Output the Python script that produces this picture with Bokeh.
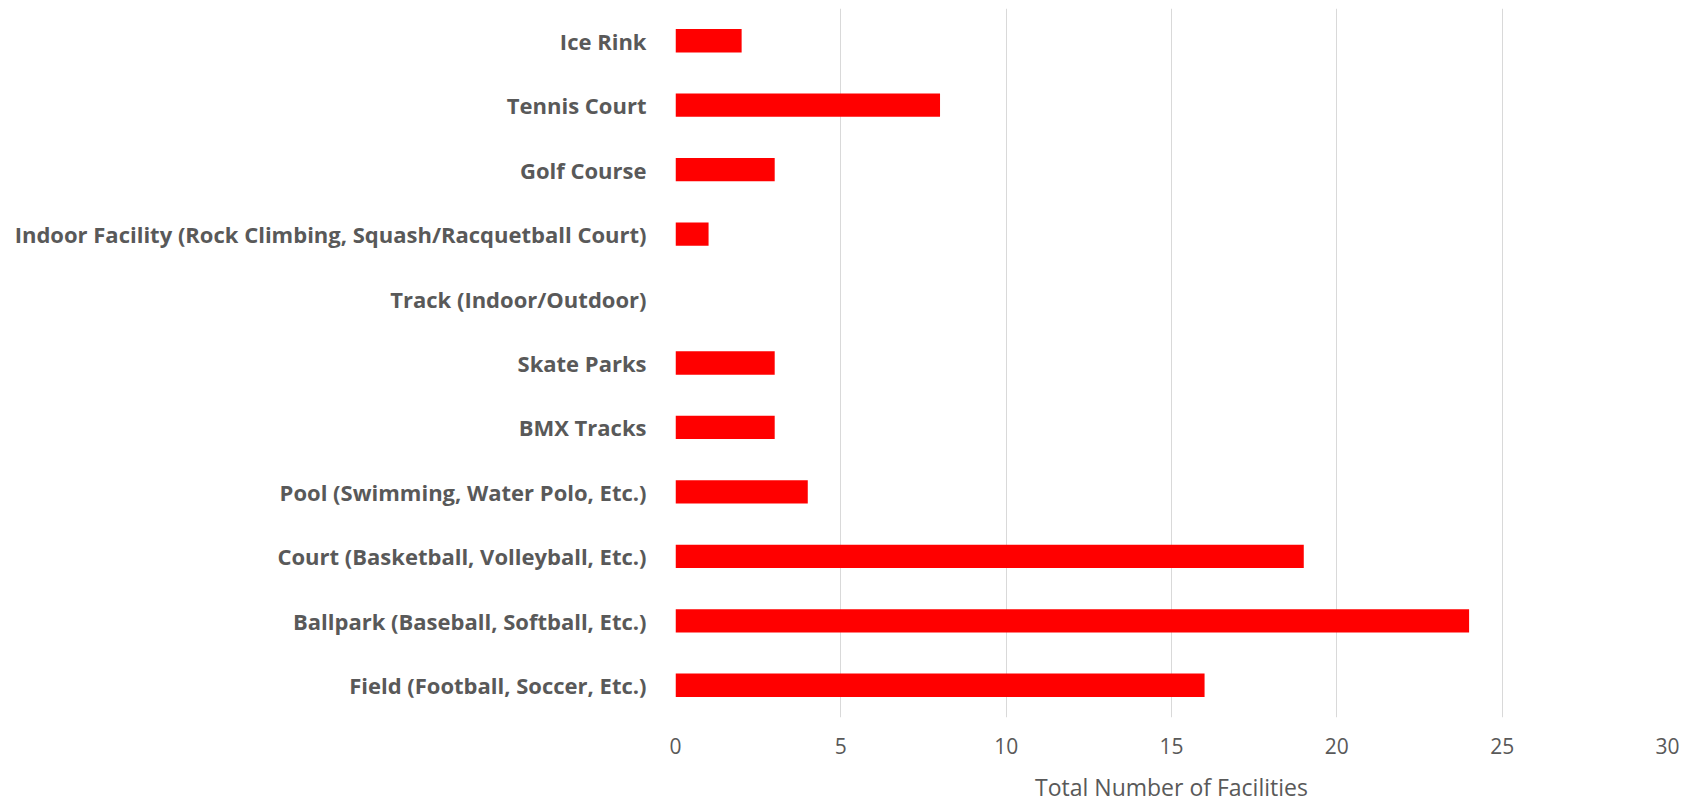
from bokeh.plotting import figure
from bokeh.models import FactorRange, Range1d, FixedTicker
from bokeh.embed import file_html
from bokeh.resources import INLINE

categories = [
    "Field (Football, Soccer, Etc.)",
    "Ballpark (Baseball, Softball, Etc.)",
    "Court (Basketball, Volleyball, Etc.)",
    "Pool (Swimming, Water Polo, Etc.)",
    "BMX Tracks",
    "Skate Parks",
    "Track (Indoor/Outdoor)",
    "Indoor Facility (Rock Climbing, Squash/Racquetball Court)",
    "Golf Course",
    "Tennis Court",
    "Ice Rink",
]
values = [16, 24, 19, 4, 3, 3, 0, 1, 3, 8, 2]
x_ticks = [0, 5, 10, 15, 20, 25, 30]

p = figure(
    frame_width=992, frame_height=709,
    y_range=FactorRange(factors=categories, range_padding=0),
    x_range=Range1d(0, 30),
    output_backend="svg", toolbar_location=None,
    min_border_left=675, min_border_right=13,
    min_border_top=8, min_border_bottom=0,
)
p.hbar(y=categories, right=values, left=0, height=0.362, color="#FF0000", line_color=None)

p.outline_line_color = None
p.ygrid.grid_line_color = None
p.xgrid.grid_line_color = "#D9D9D9"
p.xgrid.grid_line_width = 1
p.xaxis.ticker = FixedTicker(ticks=x_ticks)
for ax in (p.xaxis[0], p.yaxis[0]):
    ax.axis_line_color = None
    ax.major_tick_line_color = None
    ax.minor_tick_line_color = None
    ax.major_label_text_color = "#595959"
    ax.major_label_text_font = "Open Sans"

p.yaxis.major_label_text_font_size = "22px"
p.yaxis.major_label_text_font_style = "bold"
p.yaxis.major_label_standoff = 23
p.xaxis.major_label_text_font_size = "21px"
p.xaxis.major_label_standoff = 14
p.xaxis.axis_label = "Total Number of Facilities"
p.xaxis.axis_label_text_font = "Open Sans"
p.xaxis.axis_label_text_font_style = "normal"
p.xaxis.axis_label_text_font_size = "23px"
p.xaxis.axis_label_text_color = "#595959"
p.xaxis.axis_label_standoff = 14

open("out.html", "w").write(file_html(p, INLINE))
